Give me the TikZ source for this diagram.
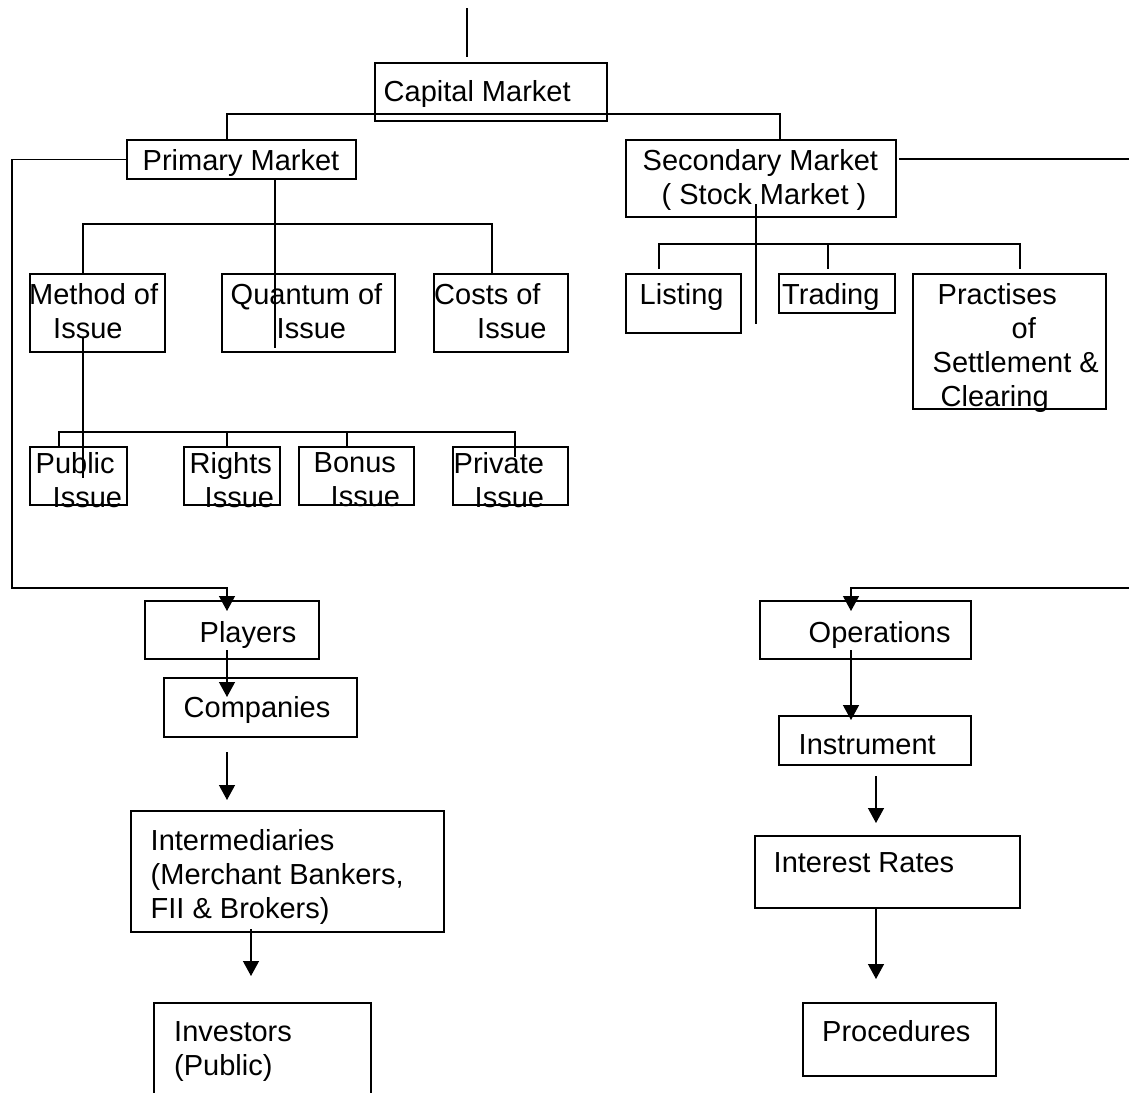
\documentclass[tikz,border=0pt]{standalone}
\usepackage{fontspec}
\setmainfont{Liberation Sans}
\usetikzlibrary{arrows.meta}
\begin{document}
\begin{tikzpicture}[
		x=1pt, y=-1pt,
		% okviri bez teksta, tekst se postavlja posebno od gornjeg lijevog kuta
		box/.style={draw, line width=1.6pt, inner sep=0pt, outer sep=0pt, anchor=north west},
		txt/.style={font=\fontsize{29pt}{34pt}\selectfont, align=left, inner sep=0pt, anchor=north west},
		conn/.style={line width=1.3pt},
		arr/.style={conn, -{Triangle[width=16pt,length=15pt]}}
		]
	\useasboundingbox (0,0) rectangle (1129,1092);
	\clip (0,0) rectangle (1129,1092);
	\fill[white] (0,0) rectangle (1129,1092);

	% okviri
	\node[box, minimum width=232pt, minimum height=58pt] (cap) at (375,63) {};
	\node[box, minimum width=229pt, minimum height=39pt] (pri) at (127,140) {};
	\node[box, minimum width=270pt, minimum height=77pt] (sec) at (626,140) {};
	\node[box, minimum width=135pt, minimum height=78pt] (meth) at (30,274) {};
	\node[box, minimum width=173pt, minimum height=78pt] (quan) at (222,274) {};
	\node[box, minimum width=134pt, minimum height=78pt] (cost) at (434,274) {};
	\node[box, minimum width=97pt, minimum height=58pt] (pub) at (30,447) {};
	\node[box, minimum width=96pt, minimum height=58pt] (rig) at (184,447) {};
	\node[box, minimum width=115pt, minimum height=58pt] (bon) at (299,447) {};
	\node[box, minimum width=115pt, minimum height=58pt] (priv) at (453,447) {};
	\node[box, minimum width=115pt, minimum height=59pt] (lis) at (626,274) {};
	\node[box, minimum width=116pt, minimum height=39pt] (tra) at (779,274) {};
	\node[box, minimum width=193pt, minimum height=135pt] (prac) at (913,274) {};
	\node[box, minimum width=174pt, minimum height=58pt] (play) at (145,601) {};
	\node[box, minimum width=193pt, minimum height=59pt] (comp) at (164,678) {};
	\node[box, minimum width=313pt, minimum height=121pt] (inter) at (131,811) {};
	\node[box, minimum width=217pt, minimum height=120pt] (inv) at (154,1003) {};
	\node[box, minimum width=211pt, minimum height=58pt] (ope) at (760,601) {};
	\node[box, minimum width=192pt, minimum height=49pt] (ins) at (779,716) {};
	\node[box, minimum width=265pt, minimum height=72pt] (intr) at (755,836) {};
	\node[box, minimum width=193pt, minimum height=73pt] (proc) at (803,1003) {};

	% tekstovi
	\node[txt] (capt) at ([shift={(8.5,17.5)}]cap.north west) {Capital Market};
	\node[txt] (prit) at ([shift={(15.5,9.5)}]pri.north west) {Primary Market};
	\node[txt] (sect) at ([shift={(16.5,9.5)}]sec.north west) {Secondary Market\\\hspace*{19pt}( Stock Market )};
	\node[txt] (metht) at ([shift={(-1,9.5)}]meth.north west) {Method of\\\hspace*{24pt}Issue};
	\node[txt] (quant) at ([shift={(8.5,9.5)}]quan.north west) {Quantum of\\\hspace*{46pt}Issue};
	\node[txt] (costt) at ([shift={(0,9.5)}]cost.north west) {Costs of\\\hspace*{43pt}Issue};
	\node[txt] (pubt) at ([shift={(5.5,5.5)}]pub.north west) {Public\\\hspace*{17pt}Issue};
	\node[txt] (rigt) at ([shift={(5.5,5.5)}]rig.north west) {Rights\\\hspace*{15pt}Issue};
	\node[txt] (bont) at ([shift={(14.5,5.5)}]bon.north west) {Bonus\\\hspace*{17pt}Issue};
	\node[txt] (privt) at ([shift={(0.5,5.5)}]priv.north west) {Private\\\hspace*{21pt}Issue};
	\node[txt] (list) at ([shift={(13.5,9.5)}]lis.north west) {Listing};
	\node[txt] (trat) at ([shift={(3,9.5)}]tra.north west) {Trading};
	\node[txt] (pract) at ([shift={(19.5,9.5)}]prac.north west) {\hspace*{5pt}Practises\\\hspace*{79pt}of\\Settlement \&\\\hspace*{8pt}Clearing};
	\node[txt] (playt) at ([shift={(54.5,20.5)}]play.north west) {Players};
	\node[txt] (compt) at ([shift={(19.5,18.5)}]comp.north west) {Companies};
	\node[txt] (intert) at ([shift={(19.5,18.5)}]inter.north west) {Intermediaries\\(Merchant Bankers,\\FII \& Brokers)};
	\node[txt] (invt) at ([shift={(20,18.5)}]inv.north west) {Investors\\(Public)};
	\node[txt] (opet) at ([shift={(48.5,20.5)}]ope.north west) {Operations};
	\node[txt] (inst) at ([shift={(19.5,18.5)}]ins.north west) {Instrument};
	\node[txt] (intrt) at ([shift={(18.5,16.5)}]intr.north west) {Interest Rates};
	\node[txt] (proct) at ([shift={(19,17.5)}]proc.north west) {Procedures};

	% veze u gornjem dijelu
	\coordinate (top) at (467,8);
	\draw[conn, shorten >=6pt] (top) -- (top |- cap.north);
	\draw[conn] ([shift={(-14.5,0)}]pri.north) |- ([shift={(0,-7)}]cap.south) -| ([shift={(19,0)}]sec.north);
	\draw[conn] ([shift={(33.5,0)}]pri.south) -- ([shift={(-33.5,-4)}]quan.south);
	\draw[conn] ([shift={(-14.5,0)}]meth.north) |- ([shift={(-9,-50)}]cost.north) -- ([shift={(-9,0)}]cost.north);
	\draw[conn] ([shift={(-14.5,-15)}]meth.south) -- ([shift={(4.5,-27)}]pub.south);
	\draw[conn] ([shift={(-19.5,0)}]pub.north) |- ([shift={(4.5,-15)}]priv.north) -- ([shift={(4.5,10)}]priv.north);
	\draw[conn] ([shift={(-5,0)}]rig.north) -- ([shift={(-5,-15)}]rig.north);
	\draw[conn] ([shift={(-9.5,0)}]bon.north) -- ([shift={(-9.5,-15)}]bon.north);
	\draw[conn] ([shift={(-5,-13)}]sec.south) -- ([shift={(-5,107)}]sec.south);
	\draw[conn] ([shift={(-24.5,-5)}]lis.north) |- ([shift={(10.5,-30)}]prac.north) -- ([shift={(10.5,-5)}]prac.north);
	\draw[conn] ([shift={(-9,-5)}]tra.north) -- ([shift={(-9,-30)}]tra.north);

	% lijevi niz
	\coordinate (lturn) at (12,588);
	\draw[arr] (pri.west) -| (lturn) -| ([shift={(-5,10)}]play.north);
	\draw[arr] ([shift={(-5,-9)}]play.south) -- ([shift={(-33.5,19)}]comp.north);
	\draw[arr] ([shift={(-33.5,15)}]comp.south) -- ([shift={(-60.5,-11)}]inter.north);
	\draw[arr] ([shift={(-36.5,-3)}]inter.south) -- ([shift={(-11.5,-27)}]inv.north);

	% desni niz
	\coordinate (rturn) at (1135,588);
	\draw[arr] ([shift={(3,-19.5)}]sec.east) -| (rturn) -| ([shift={(-14.5,10)}]ope.north);
	\draw[arr] ([shift={(-14.5,-9)}]ope.south) -- ([shift={(-24,4)}]ins.north);
	\draw[arr] ([shift={(1,11)}]ins.south) -- ([shift={(-11.5,-13)}]intr.north);
	\draw[arr] ([shift={(-11.5,0)}]intr.south) -- ([shift={(-23.5,-24)}]proc.north);
\end{tikzpicture}
\end{document}
